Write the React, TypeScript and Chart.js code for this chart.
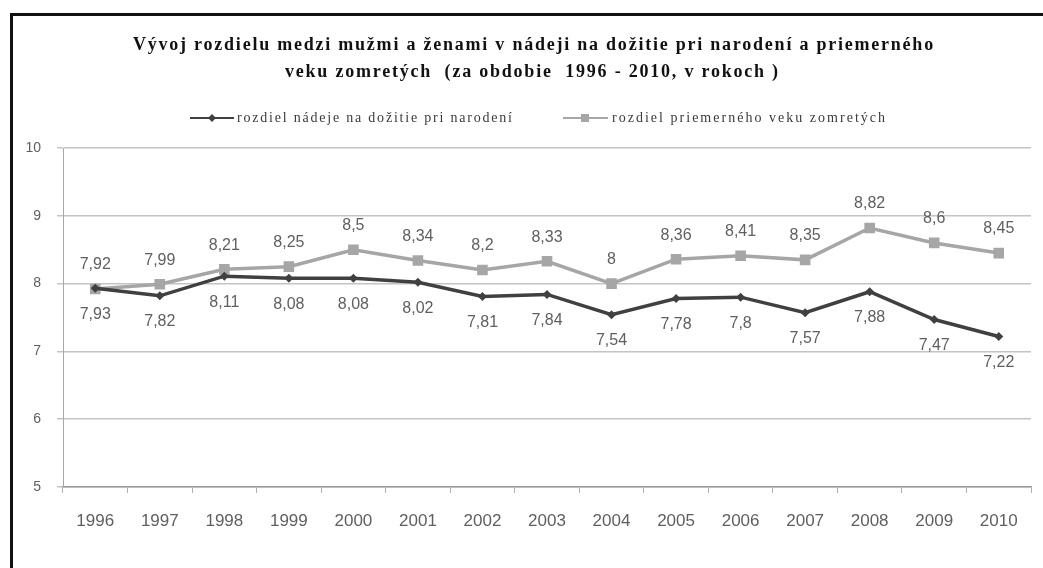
import React, { useEffect, useRef } from 'react';
import { Chart, registerables } from 'chart.js';

Chart.register(...registerables);

const years = ['1996', '1997', '1998', '1999', '2000', '2001', '2002', '2003', '2004', '2005', '2006', '2007', '2008', '2009', '2010'];
const lifeExpectancyGap = [7.93, 7.82, 8.11, 8.08, 8.08, 8.02, 7.81, 7.84, 7.54, 7.78, 7.8, 7.57, 7.88, 7.47, 7.22];
const deathAgeGap = [7.92, 7.99, 8.21, 8.25, 8.5, 8.34, 8.2, 8.33, 8, 8.36, 8.41, 8.35, 8.82, 8.6, 8.45];
const yMin = 5;
const yMax = 10;
const yStep = 1;
const titleLines = [
  'Vývoj rozdielu medzi mužmi a ženami v nádeji na dožitie pri narodení a priemerného',
  'veku zomretých  (za obdobie  1996 - 2010, v rokoch )',
];
const seriesNames = ['rozdiel nádeje na dožitie pri narodení', 'rozdiel priemerného veku zomretých'];

const DARK = '#404040';
const LIGHT = '#A6A6A6';
const LABEL = '#5f5f5f';

const fmt = (v: number) => String(v).replace('.', ',');

function fitText(ctx: CanvasRenderingContext2D, text: string, x: number, y: number, target: number) {
  (ctx as any).letterSpacing = '0px';
  const w = ctx.measureText(text).width;
  const ls = (target - w) / Math.max(1, text.length - 1);
  (ctx as any).letterSpacing = ls.toFixed(2) + 'px';
  ctx.textAlign = 'left';
  ctx.fillText(text, x, y);
  (ctx as any).letterSpacing = '0px';
}

const decorPlugin = {
  id: 'decor',
  afterDraw(chart: any) {
    const ctx: CanvasRenderingContext2D = chart.ctx;
    ctx.save();
    // title
    ctx.fillStyle = '#111';
    ctx.font = 'bold 18px "Liberation Serif", serif';
    ctx.textBaseline = 'middle';
    fitText(ctx, titleLines[0], 133, 45, 800);
    fitText(ctx, titleLines[1], 285, 72, 493);

    // legend
    const ly = 118;
    ctx.lineWidth = 2;
    ctx.strokeStyle = DARK;
    ctx.beginPath();
    ctx.moveTo(190, ly);
    ctx.lineTo(234, ly);
    ctx.stroke();
    ctx.fillStyle = DARK;
    ctx.beginPath();
    ctx.moveTo(212, ly - 4);
    ctx.lineTo(216, ly);
    ctx.lineTo(212, ly + 4);
    ctx.lineTo(208, ly);
    ctx.closePath();
    ctx.fill();

    ctx.strokeStyle = LIGHT;
    ctx.beginPath();
    ctx.moveTo(563, ly);
    ctx.lineTo(608, ly);
    ctx.stroke();
    ctx.fillStyle = LIGHT;
    ctx.fillRect(581, ly - 4, 8, 8);

    ctx.fillStyle = '#3a3a3a';
    ctx.font = '14px "Liberation Serif", serif';
    fitText(ctx, seriesNames[0], 237, ly, 275);
    fitText(ctx, seriesNames[1], 612, ly, 273);

    // data labels
    ctx.font = '16px "Liberation Sans", sans-serif';
    ctx.fillStyle = LABEL;
    ctx.textAlign = 'center';
    ctx.textBaseline = 'middle';
    chart.data.datasets.forEach((ds: any, i: number) => {
      const meta = chart.getDatasetMeta(i);
      meta.data.forEach((pt: any, j: number) => {
        const dy = i === 0 ? 26 : -24;
        ctx.fillText(fmt(ds.data[j]), pt.x, pt.y + dy);
      });
    });
    ctx.restore();
  },
};

export default function App() {
  const canvasRef = useRef<HTMLCanvasElement | null>(null);

  useEffect(() => {
    document.body.style.margin = '0';
    const canvas = canvasRef.current;
    if (!canvas) return;
    const chart = new Chart(canvas, {
      type: 'line',
      data: {
        labels: years,
        datasets: [
          {
            label: seriesNames[0],
            data: lifeExpectancyGap,
            borderColor: DARK,
            backgroundColor: DARK,
            borderWidth: 3.5,
            pointStyle: 'rectRot',
            pointRadius: 4.5,
            pointBorderWidth: 0,
            tension: 0,
          },
          {
            label: seriesNames[1],
            data: deathAgeGap,
            borderColor: LIGHT,
            backgroundColor: LIGHT,
            borderWidth: 3.5,
            pointStyle: 'rect',
            pointRadius: 7.5,
            pointBorderWidth: 0,
            tension: 0,
          },
        ],
      },
      options: {
        animation: false,
        responsive: false,
        maintainAspectRatio: false,
        layout: { padding: { left: 0, right: 12, top: 148, bottom: 0 } },
        plugins: {
          legend: { display: false },
          title: { display: false },
          tooltip: { enabled: false },
        },
        scales: {
          x: {
            offset: true,
            grid: {
              offset: true,
              drawOnChartArea: false,
              drawTicks: true,
              tickLength: 6,
              color: '#b0b0b0',
            },
            border: { color: '#9a9a9a', width: 1.5 },
            ticks: {
              color: LABEL,
              padding: 18,
              font: { family: '"Liberation Sans", sans-serif', size: 17 },
              maxRotation: 0,
              autoSkip: false,
            },
            afterFit: (scale: any) => {
              scale.height = 81;
            },
          },
          y: {
            min: yMin,
            max: yMax,
            ticks: {
              stepSize: yStep,
              color: LABEL,
              padding: 16,
              font: { family: '"Liberation Sans", sans-serif', size: 14 },
            },
            grid: {
              color: '#c4c4c4',
              lineWidth: 1.5,
              tickLength: 6,
            },
            border: { color: '#a8a8a8', width: 1 },
            afterFit: (scale: any) => {
              scale.width = 63;
            },
          },
        },
      },
      plugins: [decorPlugin],
    });
    return () => chart.destroy();
  }, []);

  return (
    <div style={{ position: 'relative', width: 1043, height: 568, overflow: 'hidden', background: '#fff' }}>
      <div
        style={{
          position: 'absolute',
          left: 10,
          top: 13,
          width: 1100,
          height: 620,
          borderLeft: '3px solid #111',
          borderTop: '3px solid #111',
          boxSizing: 'border-box',
        }}
      />
      <canvas ref={canvasRef} width={1043} height={568} style={{ position: 'absolute', left: 0, top: 0 }} />
    </div>
  );
}
